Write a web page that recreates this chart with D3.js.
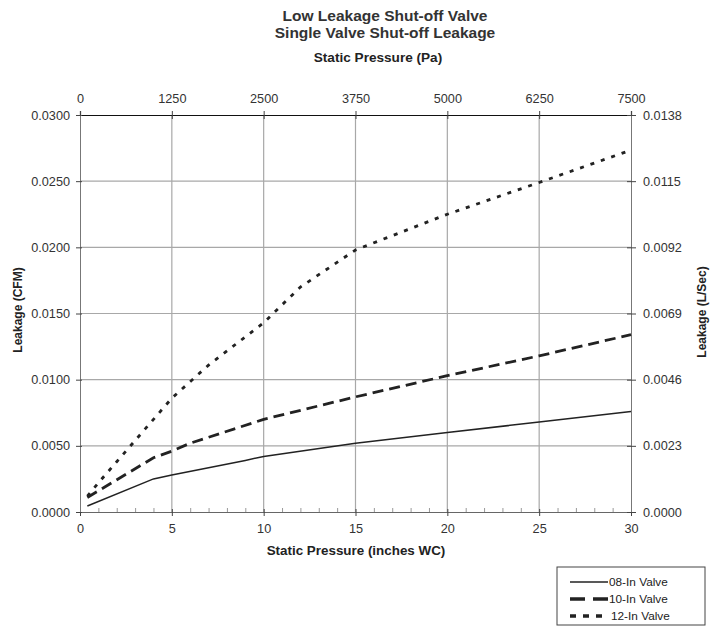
<!DOCTYPE html>
<html>
<head>
<meta charset="utf-8">
<script src="https://cdn.jsdelivr.net/npm/d3@7"></script>
<style>
  body { margin: 0; background: #fff; }
  svg { display: block; font-family: "Liberation Sans", Arial, Helvetica, sans-serif; }
</style>
</head>
<body>
<div id="chart"></div>
<script>
// Data (x in inches WC, y in CFM)
const valve08 = [[0.4, 0.00045], [4, 0.0025], [5, 0.0028], [9, 0.0039], [10, 0.0042], [15, 0.0052], [20, 0.0060], [25, 0.0068], [30, 0.0076]];
const valve10 = [[0.4, 0.0011], [4, 0.0041], [5, 0.0046], [6, 0.0052], [10, 0.0070], [15, 0.0087], [20, 0.0103], [25, 0.0118], [30, 0.0134]];
const valve12 = [[0.4, 0.0012], [1, 0.0022], [2, 0.0038], [3, 0.0054], [4, 0.0070], [5, 0.0086], [7, 0.0111], [10, 0.0143], [12, 0.0170], [15, 0.0198], [20, 0.0225], [25, 0.0249], [29.7, 0.0272]];

const seriesNames = ["08-In Valve", "10-In Valve", "12-In Valve"];

const bottomTicks = [0, 5, 10, 15, 20, 25, 30];
const topTicks = [0, 1250, 2500, 3750, 5000, 6250, 7500];
const leftTicks = [0, 0.005, 0.010, 0.015, 0.020, 0.025, 0.030];
const rightTicks = [0, 0.0023, 0.0046, 0.0069, 0.0092, 0.0115, 0.0138];

const width = 711, height = 630;
const plot = { left: 80, right: 631, top: 115, bottom: 512 };

const svg = d3.select("#chart").append("svg")
    .attr("width", width)
    .attr("height", height);

// scales
const x = d3.scaleLinear().domain([0, 30]).range([plot.left, plot.right]);
const xTop = d3.scaleLinear().domain([0, 7500]).range([plot.left, plot.right]);
const y = d3.scaleLinear().domain([0, 0.03]).range([plot.bottom, plot.top]);
const yRight = d3.scaleLinear().domain([0, 0.0138]).range([plot.bottom, plot.top]);

// grid
svg.append("g")
    .selectAll("line")
    .data(bottomTicks.slice(1, -1))
    .join("line")
    .attr("x1", d => x(d)).attr("x2", d => x(d))
    .attr("y1", plot.top).attr("y2", plot.bottom)
    .attr("stroke", "#a8a8a8").attr("stroke-width", 1.2);

svg.append("g")
    .selectAll("line")
    .data(leftTicks.slice(1, -1))
    .join("line")
    .attr("x1", plot.left).attr("x2", plot.right)
    .attr("y1", d => y(d)).attr("y2", d => y(d))
    .attr("stroke", "#a8a8a8").attr("stroke-width", 1.2);

function styleAxis(g, color) {
    g.select(".domain").attr("stroke", color);
    g.selectAll(".tick line").attr("stroke", "#444");
    g.selectAll(".tick text")
        .attr("fill", "#333")
        .style("font-size", "12.7px")
        .style("font-family", "'Liberation Sans', Arial, sans-serif");
}

// minor ticks on bottom axis
svg.append("g")
    .attr("transform", `translate(0,${plot.bottom})`)
    .call(d3.axisTop(x).tickValues(d3.range(1, 30).filter(d => d % 5 !== 0)).tickSize(4).tickFormat(""))
    .call(g => g.select(".domain").remove())
    .call(g => g.selectAll(".tick line").attr("stroke", "#999"));

// bottom axis
svg.append("g")
    .attr("transform", `translate(0,${plot.bottom})`)
    .call(d3.axisBottom(x).tickValues(bottomTicks).tickSize(4).tickPadding(8).tickFormat(d3.format("d")))
    .call(g => styleAxis(g, "#666"))
    .call(g => g.selectAll(".tick line").attr("y1", -3));

// top axis
svg.append("g")
    .attr("transform", `translate(0,${plot.top})`)
    .call(d3.axisTop(xTop).tickValues(topTicks).tickSize(4).tickPadding(8).tickFormat(d3.format("d")))
    .call(g => styleAxis(g, "#111"))
    .call(g => g.select(".domain").attr("stroke-width", 1.2))
    .call(g => g.selectAll(".tick line").attr("y1", 4));

// left axis
svg.append("g")
    .attr("transform", `translate(${plot.left},0)`)
    .call(d3.axisLeft(y).tickValues(leftTicks).tickSize(4).tickPadding(6).tickFormat(d3.format(".4f")))
    .call(g => styleAxis(g, "#777"))
    .call(g => g.selectAll(".tick line").attr("x1", 2));

// right axis
svg.append("g")
    .attr("transform", `translate(${plot.right},0)`)
    .call(d3.axisRight(yRight).tickValues(rightTicks).tickSize(5).tickPadding(7).tickFormat(d3.format(".4f")))
    .call(g => styleAxis(g, "#777"))
    .call(g => g.selectAll(".tick line").attr("x1", -4));

// lines
const line = d3.line().x(d => x(d[0])).y(d => y(d[1]));
const styles = [
    { data: valve08, width: 1.5, dash: null },
    { data: valve10, width: 2.8, dash: "11,6" },
    { data: valve12, width: 2.8, dash: "4,7" }
];
styles.forEach(s => {
    svg.append("path")
        .datum(s.data)
        .attr("d", line)
        .attr("fill", "none")
        .attr("stroke", "#222")
        .attr("stroke-width", s.width)
        .attr("stroke-dasharray", s.dash);
});

// titles
svg.append("text")
    .attr("x", 385).attr("y", 21)
    .attr("text-anchor", "middle")
    .attr("font-weight", "bold").attr("font-size", 15.5).attr("fill", "#333")
    .text("Low Leakage Shut-off Valve");
svg.append("text")
    .attr("x", 385).attr("y", 38)
    .attr("text-anchor", "middle")
    .attr("font-weight", "bold").attr("font-size", 15.5).attr("fill", "#333")
    .text("Single Valve Shut-off Leakage");
svg.append("text")
    .attr("x", 378).attr("y", 62)
    .attr("text-anchor", "middle")
    .attr("font-weight", "bold").attr("font-size", 13.6).attr("fill", "#222")
    .text("Static Pressure (Pa)");
svg.append("text")
    .attr("x", 356).attr("y", 555)
    .attr("text-anchor", "middle")
    .attr("font-weight", "bold").attr("font-size", 13.4).attr("fill", "#222")
    .text("Static Pressure (inches WC)");
svg.append("text")
    .attr("transform", "translate(22,310) rotate(-90)")
    .attr("text-anchor", "middle")
    .attr("font-weight", "bold").attr("font-size", 12).attr("fill", "#222")
    .text("Leakage (CFM)");
svg.append("text")
    .attr("transform", "translate(706,312) rotate(-90)")
    .attr("text-anchor", "middle")
    .attr("font-weight", "bold").attr("font-size", 12).attr("fill", "#222")
    .text("Leakage (L/Sec)");

// legend
const legend = svg.append("g").attr("transform", "translate(557,567)");
legend.append("rect")
    .attr("width", 148).attr("height", 58)
    .attr("fill", "#fff").attr("stroke", "#444").attr("stroke-width", 1);
const legendDash = [null, "15,8", "6,7"];
const legendWidth = [1.5, 3.5, 3.5];
const legendEnd = [51, 51, 47];
seriesNames.forEach((name, i) => {
    const yy = 15 + i * 17;
    legend.append("line")
        .attr("x1", 13).attr("x2", legendEnd[i])
        .attr("y1", yy).attr("y2", yy)
        .attr("stroke", "#222")
        .attr("stroke-width", legendWidth[i])
        .attr("stroke-dasharray", legendDash[i]);
    legend.append("text")
        .attr("x", i === 2 ? 54 : 52).attr("y", yy + 4)
        .attr("font-size", 11.8).attr("fill", "#222")
        .text(name);
});
</script>
</body>
</html>
